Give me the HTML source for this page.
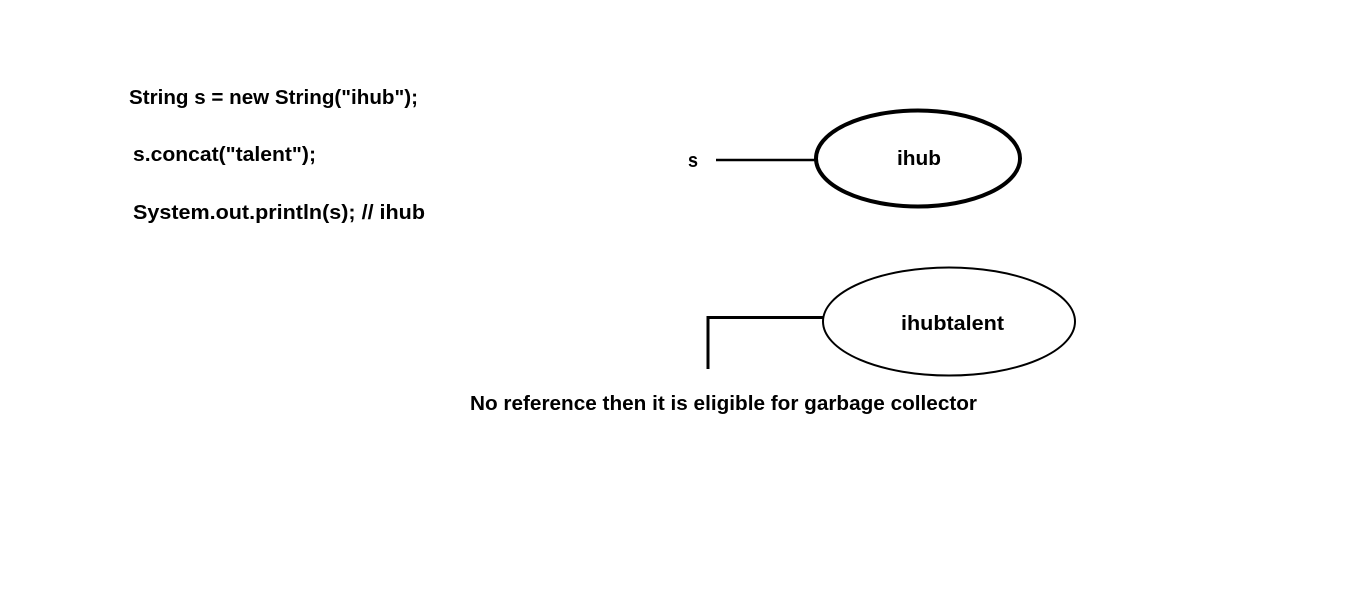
<!DOCTYPE html>
<html><head><meta charset="utf-8"><style>html,body{margin:0;padding:0;background:#fff}svg{display:block}</style></head>
<body>
<svg width="1360" height="613" viewBox="0 0 1360 613" xmlns="http://www.w3.org/2000/svg" font-family="Liberation Sans, sans-serif" font-weight="bold" font-size="20" fill="#000">
<text x="129" y="104" textLength="289" lengthAdjust="spacingAndGlyphs">String s = new String("ihub");</text>
<text x="133" y="161" textLength="183" lengthAdjust="spacingAndGlyphs">s.concat("talent");</text>
<text x="133" y="219" textLength="292" lengthAdjust="spacingAndGlyphs">System.out.println(s); // ihub</text>
<text x="688" y="167" textLength="10" lengthAdjust="spacingAndGlyphs">s</text>
<line x1="716" y1="160" x2="816" y2="160" stroke="#000" stroke-width="2.5"/>
<ellipse cx="918" cy="158.5" rx="102" ry="48" fill="none" stroke="#000" stroke-width="4"/>
<text x="897" y="165" textLength="44" lengthAdjust="spacingAndGlyphs">ihub</text>
<polyline points="708,369 708,317.5 823,317.5" fill="none" stroke="#000" stroke-width="3"/>
<ellipse cx="949" cy="321.5" rx="126" ry="54" fill="none" stroke="#000" stroke-width="2"/>
<text x="901" y="330" textLength="103" lengthAdjust="spacingAndGlyphs">ihubtalent</text>
<text x="470" y="410" textLength="507" lengthAdjust="spacingAndGlyphs">No reference then it is eligible for garbage collector</text>
</svg>
</body></html>
